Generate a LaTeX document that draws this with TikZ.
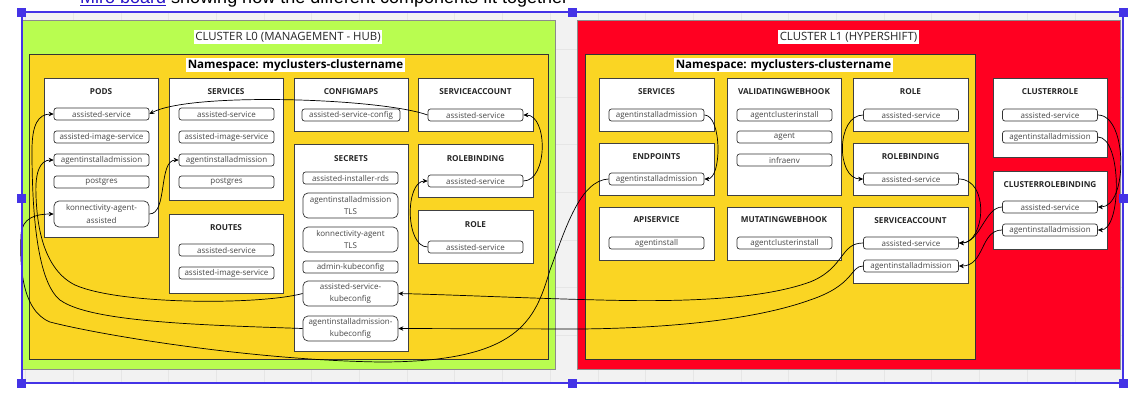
\documentclass[tikz,border=0pt]{standalone}
\usepackage{fontspec}
\setmainfont{Open Sans}
\newfontfamily\arialf{Liberation Sans}
\usetikzlibrary{arrows.meta}
\definecolor{limec}{RGB}{185,253,80}
\definecolor{redc}{RGB}{255,0,33}
\definecolor{yelc}{RGB}{250,213,35}
\definecolor{gridbg}{RGB}{242,242,242}
\definecolor{gridln}{RGB}{230,230,230}
\definecolor{selblue}{RGB}{68,51,230}
\definecolor{itemtxt}{RGB}{70,70,70}
\definecolor{linkblue}{RGB}{40,20,200}
\tikzset{
 cluster/.style={draw=black!45, line width=0.9pt, inner sep=0pt},
 nspace/.style={draw=black!80, fill=yelc, line width=0.8pt, inner sep=0pt},
 ctitle/.style={fill=white, inner sep=1.5pt, font=\fontsize{11.4}{13}\selectfont, text=black!85},
 nstitle/.style={fill=white, inner sep=1.5pt, font=\bfseries\fontsize{11.6}{13}\selectfont, text=black},
 card/.style={draw=black!75, fill=white, line width=0.7pt, inner sep=0pt},
 cardtitle/.style={font=\bfseries\fontsize{8.2}{9}\selectfont, text=black!85, inner sep=0pt},
 item/.style={draw=black!80, fill=white, rounded corners=2.5pt, line width=0.7pt, minimum width=95pt, minimum height=12pt, inner sep=0pt, font=\fontsize{8}{9}\selectfont, text=itemtxt},
 item2/.style={item, minimum height=25pt, rounded corners=5pt, align=center, font=\fontsize{8}{12.5}\selectfont},
 conn/.style={-{Stealth[length=5pt,width=4.5pt]}, line width=0.7pt, black},
 handle/.style={fill=selblue, draw=none, minimum size=9pt, inner sep=0pt},
}
\begin{document}
\begin{tikzpicture}[x=1pt,y=-1pt]
\useasboundingbox (0,0) rectangle (1128,416);
\clip (0,0) rectangle (1128,416);
\fill[white] (0,0) rectangle (1128,416);
% canvas grid
\fill[gridbg] (22,12) rectangle (1123,383);
\foreach \k in {0,...,23} {\draw[gridln, line width=0.6pt] ({25.4+47.7*\k},12) -- ({25.4+47.7*\k},383);}
\foreach \k in {1,...,7} {\draw[gridln, line width=0.6pt] (22,{383-47.7*\k}) -- (1123,{383-47.7*\k});}
% top cut text
\node[anchor=base, font=\arialf\fontsize{18}{18}\selectfont, inner sep=0pt] (bullet) at (58,3.5) {•};
\node[anchor=base west, font=\arialf\fontsize{18}{18}\selectfont, inner sep=0pt] (toptext) at (80,3.5) {\textcolor{linkblue}{\underline{Miro board}} showing how the different components fit together};
% clusters
\node[cluster, fill=limec, minimum width=533pt, minimum height=349pt] (c0) at (288.5,194.5) {};
\node[cluster, fill=redc, minimum width=543pt, minimum height=349pt] (c1) at (848.5,194.5) {};
\node[ctitle] (c0T) at (288,37) {CLUSTER L0 (MANAGEMENT - HUB)};
\node[ctitle] (c1T) at (848.5,37) {CLUSTER L1 (HYPERSHIFT)};
\node[nspace, minimum width=519pt, minimum height=305pt] (ns0) at (288.5,206.5) {};
\node[nspace, minimum width=390pt, minimum height=305pt] (ns1) at (780,206.5) {};
\node[nstitle] (ns0T) at (295.5,65) {Namespace: myclusters-clustername};
\node[nstitle] (ns1T) at (783.5,65) {Namespace: myclusters-clustername};
% ===== L0 cards
\node[card, minimum width=114pt, minimum height=159pt] (pods) at (101,157.5) {};
\node[cardtitle] (podsT) at (101,92) {PODS};
\node[item] (podsAs) at (101.5,114) {assisted-service};
\node[item] (podsImg) at (101.5,137) {assisted-image-service};
\node[item] (podsAia) at (101.5,160) {agentinstalladmission};
\node[item] (podsPg) at (101.5,182) {postgres};
\node[item2, minimum height=26pt] (podsKon) at (101.5,214) {konnectivity-agent-\\assisted};

\node[card, minimum width=114pt, minimum height=122pt] (svc0) at (226,139) {};
\node[cardtitle] (svc0T) at (226,92) {SERVICES};
\node[item] (svc0As) at (226.5,114) {assisted-service};
\node[item] (svc0Img) at (226.5,137) {assisted-image-service};
\node[item] (svc0Aia) at (226.5,160) {agentinstalladmission};
\node[item] (svc0Pg) at (226.5,182) {postgres};

\node[card, minimum width=114pt, minimum height=79pt] (rt) at (226,253.5) {};
\node[cardtitle] (rtT) at (226,228) {ROUTES};
\node[item] (rtAs) at (226.5,250) {assisted-service};
\node[item] (rtImg) at (226.5,273) {assisted-image-service};

\node[card, minimum width=114pt, minimum height=53pt] (cm) at (351,104.5) {};
\node[cardtitle] (cmT) at (351,92) {CONFIGMAPS};
\node[item, minimum width=98pt] (cmAs) at (351,115) {assisted-service-config};

\node[card, minimum width=115pt, minimum height=53pt] (sa0) at (475.5,104.5) {};
\node[cardtitle] (sa0T) at (475.5,92) {SERVICEACCOUNT};
\node[item] (sa0As) at (475.5,115) {assisted-service};

\node[card, minimum width=114pt, minimum height=207pt] (sec) at (351,247.5) {};
\node[cardtitle] (secT) at (351,159) {SECRETS};
\node[item] (secRds) at (350.5,178) {assisted-installer-rds};
\node[item2] (secAiaTls) at (350.5,205.5) {agentinstalladmission\\TLS};
\node[item2] (secKonTls) at (350.5,239.5) {konnectivity-agent\\TLS};
\node[item] (secAdmin) at (350.5,267) {admin-kubeconfig};
\node[item2] (secAsKc) at (350.5,293.5) {assisted-service-\\kubeconfig};
\node[item2] (secAiaKc) at (350.5,328.5) {agentinstalladmission-\\kubeconfig};

\node[card, minimum width=115pt, minimum height=53pt] (rb0) at (475.5,170.5) {};
\node[cardtitle] (rb0T) at (475.5,159) {ROLEBINDING};
\node[item] (rb0As) at (475.5,181) {assisted-service};

\node[card, minimum width=115pt, minimum height=53pt] (role0) at (475.5,236.5) {};
\node[cardtitle] (role0T) at (475.5,225) {ROLE};
\node[item] (role0As) at (475.5,247) {assisted-service};

% ===== L1 cards
\node[card, minimum width=115pt, minimum height=53pt] (svc1) at (656.5,104.5) {};
\node[cardtitle] (svc1T) at (656.5,92) {SERVICES};
\node[item] (svc1Aia) at (656.5,115) {agentinstalladmission};

\node[card, minimum width=114pt, minimum height=117pt] (vwh) at (784,136.5) {};
\node[cardtitle] (vwhT) at (784,92) {VALIDATINGWEBHOOK};
\node[item] (vwhAci) at (784.5,115) {agentclusterinstall};
\node[item] (vwhAgent) at (784.5,137) {agent};
\node[item] (vwhInfra) at (784.5,160) {infraenv};

\node[card, minimum width=115pt, minimum height=52pt] (ep) at (656.5,169) {};
\node[cardtitle] (epT) at (656.5,157) {ENDPOINTS};
\node[item] (epAia) at (656.5,179) {agentinstalladmission};

\node[card, minimum width=115pt, minimum height=53pt] (api) at (656.5,233.5) {};
\node[cardtitle] (apiT) at (656.5,220) {APISERVICE};
\node[item] (apiAi) at (656.5,243) {agentinstall};

\node[card, minimum width=114pt, minimum height=53pt] (mwh) at (784,233.5) {};
\node[cardtitle] (mwhT) at (784,220) {MUTATINGWEBHOOK};
\node[item] (mwhAci) at (784.5,243) {agentclusterinstall};

\node[card, minimum width=115pt, minimum height=53pt] (role1) at (910.5,104.5) {};
\node[cardtitle] (role1T) at (910.5,92) {ROLE};
\node[item] (role1As) at (911,115) {assisted-service};

\node[card, minimum width=115pt, minimum height=52pt] (rb1) at (910.5,169) {};
\node[cardtitle] (rb1T) at (910.5,157) {ROLEBINDING};
\node[item] (rb1As) at (911,179) {assisted-service};

\node[card, minimum width=115pt, minimum height=76pt] (sa1) at (910.5,245) {};
\node[cardtitle] (sa1T) at (910.5,221) {SERVICEACCOUNT};
\node[item] (sa1As) at (911,243) {assisted-service};
\node[item] (sa1Aia) at (911,266) {agentinstalladmission};

\node[card, minimum width=114pt, minimum height=79pt] (cr) at (1050,117.5) {};
\node[cardtitle] (crT) at (1050,92) {CLUSTERROLE};
\node[item] (crAs) at (1050,115) {assisted-service};
\node[item] (crAia) at (1050,137) {agentinstalladmission};

\node[card, minimum width=114pt, minimum height=78pt] (crb) at (1050,210) {};
\node[cardtitle] (crbT) at (1050,185) {CLUSTERROLEBINDING};
\node[item] (crbAs) at (1050,207) {assisted-service};
\node[item] (crbAia) at (1050,230) {agentinstalladmission};

% ===== connectors L0
\draw[conn] (sa0As.west) .. controls (380,98) and (190,92) .. (podsAs.east);
\draw[conn] (rb0As.east) .. controls (548,181) and (548,115) .. (sa0As.east);
\draw[conn] (role0As.west) .. controls (405,247) and (405,181) .. (rb0As.west);
\draw[conn] (podsKon.east) .. controls (168,214) and (158,160) .. (svc0Aia.west);
\draw[conn] (secAsKc.west) .. controls (260,305) and (120,305) .. (75,285) .. controls (45,270) and (37,230) .. (36,195) .. controls (35,172) and (40,160) .. (podsAia.west);
\draw[conn] (secAiaKc.west) .. controls (200,325) and (90,322) .. (60,300) .. controls (35,280) and (32,200) .. (32,150) .. controls (32,125) and (38,114) .. (podsAs.west);
% ===== connectors L1
\draw[conn] (svc1Aia.east) .. controls (722,115) and (722,179) .. (epAia.east);
\draw[conn] (role1As.west) .. controls (836,115) and (836,179) .. (rb1As.west);
\draw[conn] (rb1As.east) .. controls (990,179) and (985,243) .. (sa1As.east);
\draw[conn] (crbAs.west) .. controls (985,207) and (980,243) .. (sa1As.east);
\draw[conn] (crbAia.west) .. controls (980,230) and (985,266) .. (sa1Aia.east);
\draw[conn] (crAs.east) .. controls (1128,115) and (1128,207) .. (crbAs.east);
\draw[conn] (crAia.east) .. controls (1122,137) and (1122,230) .. (crbAia.east);
% ===== cross-cluster connectors
\draw[conn] (epAia.west) .. controls (580,180) and (565,230) .. (550,270) .. controls (535,320) and (520,362) .. (380,362) .. controls (250,360) and (100,335) .. (50,322) .. controls (20,310) and (20,260) .. (21,235) .. controls (22,218) and (35,214) .. (podsKon.west);
\draw[conn] (sa1As.west) .. controls (840,243) and (845,268) .. (810,282) .. controls (760,300) and (680,302) .. (600,300) .. controls (520,298) and (460,295) .. (secAsKc.east);
\draw[conn] (sa1Aia.west) .. controls (850,266) and (855,285) .. (810,300) .. controls (760,318) and (680,328) .. (580,329) -- (secAiaKc.east);
% ===== selection frame
\draw[selblue, line width=1.1pt] (22,12) rectangle (1123,383);
\foreach \p/\n in {{(21.5,12.5)}/h1,{(572,12.5)}/h2,{(1123,12.5)}/h3,{(21.5,198)}/h4,{(1123,198)}/h5,{(21.5,383)}/h6,{(572,383)}/h7,{(1123,383)}/h8}
  {\node[handle] (\n) at \p {};}
\end{tikzpicture}
\end{document}
